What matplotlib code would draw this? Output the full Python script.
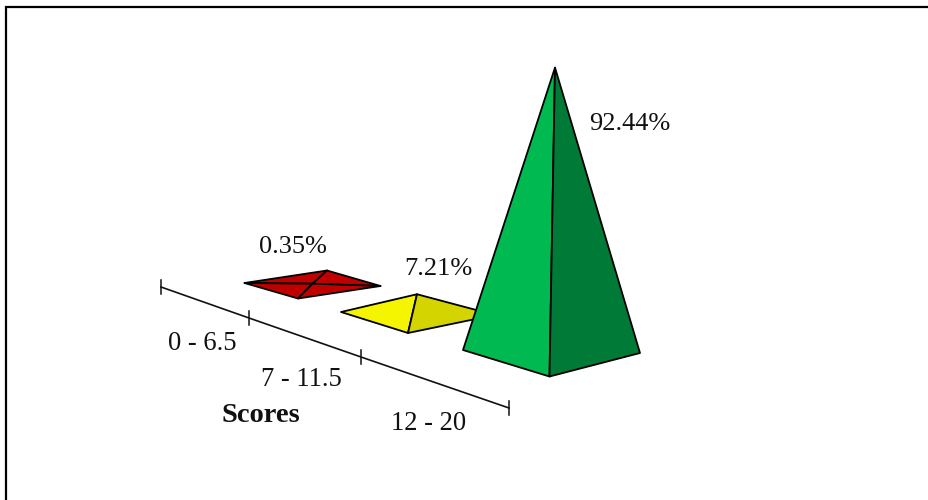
import matplotlib
matplotlib.use("Agg")
import matplotlib.pyplot as plt
from matplotlib.patches import Polygon

plt.rcParams["font.family"] = ["Liberation Serif", "DejaVu Serif"]

# Chart content
categories = ["0 - 6.5", "7 - 11.5", "12 - 20"]
percentages = [0.35, 7.21, 92.44]
axis_title = "Scores"

# Oblique projection of each pyramid's base on the floor, in canvas units
base_centres = [(312.5, 284.5), (418, 313.5), (551.5, 351.5)]
across_vectors = [(68, 1.5), (77, 1.5), (88.5, 1.5)]
depth_vectors = [(-14.5, 14), (-10, 19.5), (-2, 25)]
apex_lean = [0, -1, 3.5]
height_per_unit = 0.0347  # height per percent, per unit of base half-width
flat_below = 1.0  # pyramids lower than this show their rear edges

left_colours = ["#C00000", "#F5F500", "#00B950"]
right_colours = ["#C00000", "#D4D400", "#007A37"]

value_label_xy = [(293, 247), (438, 269), (630, 124)]
category_label_xy = [(202, 343), (301, 380), (429, 424)]
title_xy = (261, 415)

# Floor axis with its tick marks
axis_ticks = [(161, 287), (249, 318), (361, 357), (509, 408)]
tick_half_length = 7

fig = plt.figure(figsize=(9.29, 5.0), dpi=100)
ax = fig.add_axes([0, 0, 1, 1])
ax.set_xlim(0, 929)
ax.set_ylim(500, 0)
ax.axis("off")

# Outer frame: only the top and left edges are visible
ax.plot([6, 6, 929], [500, 7, 7], color="black", lw=1.6, solid_joinstyle="miter")

ax.plot([p[0] for p in axis_ticks], [p[1] for p in axis_ticks], color="#111111", lw=1.2)
for x, y in axis_ticks:
    ax.plot([x, x], [y - tick_half_length, y + tick_half_length], color="#111111", lw=1.1)

# Pyramids, farthest first so the nearer ones overlap them
for i, value in enumerate(percentages):
    cx, cy = base_centres[i]
    ax_x, ax_y = across_vectors[i]
    dx, dy = depth_vectors[i]
    left = (cx - ax_x, cy - ax_y)
    right = (cx + ax_x, cy + ax_y)
    front = (cx + dx, cy + dy)
    back = (cx - dx, cy - dy)
    apex = (cx + apex_lean[i], cy - value * height_per_unit * ax_x)
    faces = [
        ((left, apex, front), left_colours[i]),
        ((apex, right, front), right_colours[i]),
    ]
    if value < flat_below:
        faces = [
            ((left, apex, back), left_colours[i]),
            ((back, apex, right), right_colours[i]),
        ] + faces
    for pts, colour in faces:
        ax.add_patch(Polygon(pts, closed=True, facecolor=colour, edgecolor="black",
                             lw=1.3, joinstyle="round", zorder=3 + i))

for (x, y), value in zip(value_label_xy, percentages):
    ax.text(x, y, f"{value:.2f}%", fontsize=19, color="#111111",
            ha="center", va="center", zorder=10)
for (x, y), name in zip(category_label_xy, categories):
    ax.text(x, y, name, fontsize=19.2, color="#111111",
            ha="center", va="center", zorder=10)
ax.text(title_xy[0], title_xy[1], axis_title, fontsize=20.5, fontweight="bold",
        color="#111111", ha="center", va="center", zorder=10)

fig.savefig("out.png", dpi=100, facecolor="white")
